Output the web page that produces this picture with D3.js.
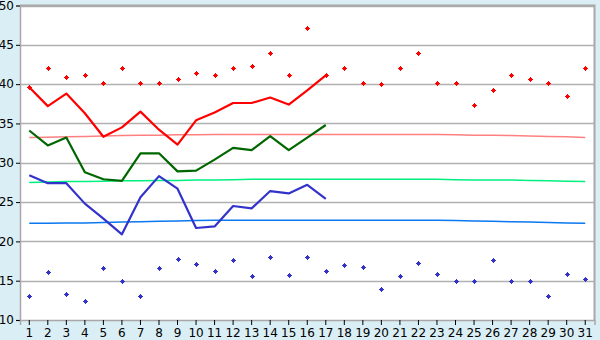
<!DOCTYPE html>
<html><head><meta charset="utf-8">
<script src="https://cdn.jsdelivr.net/npm/d3@7"></script>
<style>
html,body{margin:0;padding:0;background:#DAEEF5;}
svg{display:block;}
text{font-family:"DejaVu Sans",Verdana,sans-serif;font-size:12px;fill:#000;}
</style></head><body>
<script>
const days = d3.range(1, 32);
const yTicks = [10, 15, 20, 25, 30, 35, 40, 45, 50];

const redPoints = [39.6,42.1,40.9,41.1,40.1,42.0,40.1,40.2,40.6,41.4,41.1,42.0,42.3,44.0,41.2,47.1,41.1,42.0,40.2,40.0,42.0,44.0,40.1,40.1,37.3,39.2,41.2,40.6,40.1,38.5,42.0];
const bluePoints = [13.0,16.1,13.3,12.4,16.6,15.0,13.0,16.6,17.7,17.1,16.2,17.6,15.6,18.0,15.7,18.0,16.2,17.0,16.8,14.0,15.6,17.2,15.8,15.0,14.9,17.6,14.9,14.9,13.0,15.9,15.2];

const redLine = [39.6,37.2,38.8,36.3,33.3,34.5,36.5,34.2,32.3,35.4,36.4,37.6,37.6,38.3,37.4,39.2,41.1];
const greenLine = [34.1,32.2,33.2,28.8,27.9,27.7,31.2,31.2,28.9,29.0,30.4,31.9,31.6,33.4,31.6,33.2,34.8];
const blueLine = [28.4,27.4,27.4,24.8,22.9,20.9,25.6,28.3,26.7,21.7,21.9,24.5,24.2,26.4,26.1,27.2,25.4];

const pinkTrend = [33.2,33.25,33.3,33.35,33.4,33.45,33.5,33.5,33.55,33.55,33.6,33.6,33.6,33.6,33.6,33.6,33.6,33.6,33.6,33.6,33.6,33.6,33.6,33.55,33.5,33.5,33.45,33.4,33.35,33.3,33.2];
const greenTrend = [27.5,27.55,27.6,27.6,27.65,27.7,27.7,27.75,27.75,27.8,27.8,27.85,27.9,27.9,27.9,27.9,27.9,27.9,27.9,27.9,27.9,27.9,27.9,27.85,27.8,27.8,27.8,27.75,27.7,27.65,27.6];
const blueTrend = [22.3,22.3,22.35,22.35,22.4,22.45,22.5,22.55,22.6,22.65,22.7,22.7,22.7,22.7,22.7,22.7,22.7,22.7,22.7,22.7,22.7,22.7,22.7,22.65,22.6,22.55,22.5,22.45,22.4,22.35,22.3];

const W = 600, H = 340;
const m = {left: 20, right: 5.5, top: 5.5, bottom: 20};
const svg = d3.select("body").append("svg").attr("width", W).attr("height", H);

const x = d3.scaleBand().domain(days).range([m.left, W - m.right]);
const cx = d => x(d) + x.bandwidth() / 2;
const y = d3.scaleLinear().domain([10, 50]).range([H - m.bottom, m.top]);

svg.append("rect").attr("x", m.left).attr("y", m.top)
  .attr("width", W - m.right - m.left).attr("height", H - m.bottom - m.top)
  .attr("fill", "#fff");

// gridlines
svg.append("g").selectAll("line").data(yTicks.slice(1)).join("line")
  .attr("x1", m.left).attr("x2", W - m.right)
  .attr("y1", d => Math.round(y(d)) + 0.5).attr("y2", d => Math.round(y(d)) + 0.5)
  .attr("stroke", "#B0B0B0").attr("stroke-width", 1.5);

// border right/top
svg.append("path")
  .attr("d", `M${m.left},${m.top}H${W - m.right}V${H - m.bottom}`)
  .attr("fill", "none").attr("stroke", "#A8A8A8").attr("stroke-width", 2);

// axes
const yAxis = d3.axisLeft(y).tickValues(yTicks).tickSize(4).tickPadding(2);
const gy = svg.append("g").attr("transform", `translate(${m.left},0)`).call(yAxis);
const xAxis = d3.axisBottom(x).tickSize(5).tickPadding(3);
const gx = svg.append("g").attr("transform", `translate(0,${H - m.bottom})`).call(xAxis);
[gy, gx].forEach(g => {
  g.select(".domain").attr("stroke", "#A8A8A8").attr("stroke-width", 1.5);
  g.selectAll(".tick line").attr("stroke", "#000");
  g.selectAll("text").style("font-family", "DejaVu Sans, Verdana, sans-serif").style("font-size", "12px").attr("fill", "#000");
});

// trend lines
const lineGen = arr => d3.line().x((d, i) => cx(days[i])).y(d => y(d))(arr);
[[pinkTrend, "#FF8080"], [greenTrend, "#00F080"], [blueTrend, "#0A78F0"]].forEach(([arr, c]) => {
  svg.append("path").attr("d", lineGen(arr)).attr("fill", "none").attr("stroke", c).attr("stroke-width", 1.5);
});

// main lines
[[redLine, "#FF0000"], [greenLine, "#006600"], [blueLine, "#3333CC"]].forEach(([arr, c]) => {
  svg.append("path").attr("d", lineGen(arr)).attr("fill", "none").attr("stroke", c)
    .attr("stroke-width", 2.2).attr("stroke-linejoin", "round");
});

// markers (small stepped diamond)
const marker = "M-0.5,-2.5H0.5V-1.5H1.5V-0.5H2.5V0.5H1.5V1.5H0.5V2.5H-0.5V1.5H-1.5V0.5H-2.5V-0.5H-1.5V-1.5H-0.5Z";
[[redPoints, "#FF0000"], [bluePoints, "#3333CC"]].forEach(([arr, c]) => {
  svg.append("g").selectAll("path").data(arr).join("path")
    .attr("transform", (d, i) => `translate(${Math.round(cx(days[i])) + 0.5},${Math.round(y(d)) + 0.5})`)
    .attr("d", marker).attr("fill", c);
});
</script>
</body></html>
